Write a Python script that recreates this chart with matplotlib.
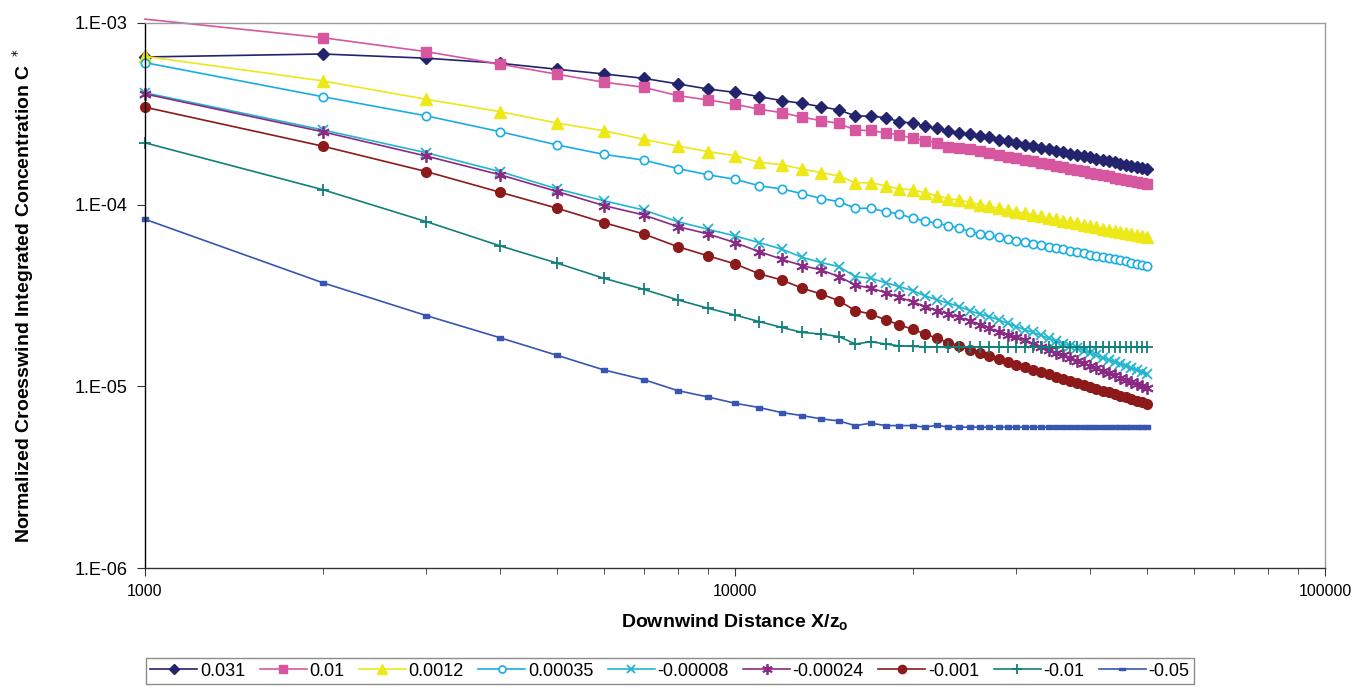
import numpy as np
import matplotlib
matplotlib.use("Agg")
import matplotlib.pyplot as plt

plt.rcParams['font.family'] = ['Liberation Sans', 'DejaVu Sans']

# downwind distance X/zo
x = [1000, 2000, 3000, 4000, 5000, 6000, 7000, 8000, 9000, 10000,
     11000, 12000, 13000, 14000, 15000, 16000, 17000, 18000, 19000, 20000,
     21000, 22000, 23000, 24000, 25000, 26000, 27000, 28000, 29000, 30000,
     31000, 32000, 33000, 34000, 35000, 36000, 37000, 38000, 39000, 40000,
     41000, 42000, 43000, 44000, 45000, 46000, 47000, 48000, 49000, 50000]

# concentration values, in units of 1e-4
c_0031 = [6.50, 6.75, 6.40, 6.00, 5.56, 5.24, 4.96, 4.62, 4.33, 4.15,
          3.93, 3.74, 3.61, 3.46, 3.32, 3.08, 3.07, 3.01, 2.86, 2.81,
          2.71, 2.63, 2.55, 2.49, 2.45, 2.39, 2.35, 2.27, 2.25, 2.19,
          2.14, 2.10, 2.06, 2.02, 1.98, 1.95, 1.91, 1.88, 1.85, 1.82,
          1.79, 1.76, 1.73, 1.71, 1.68, 1.66, 1.63, 1.61, 1.59, 1.57]
c_001 = [10.5, 8.30, 6.95, 5.93, 5.22, 4.72, 4.43, 3.98, 3.77, 3.57,
         3.35, 3.21, 3.03, 2.90, 2.80, 2.57, 2.56, 2.48, 2.42, 2.32,
         2.25, 2.19, 2.08, 2.04, 2.02, 1.98, 1.93, 1.88, 1.84, 1.81,
         1.77, 1.73, 1.70, 1.67, 1.64, 1.61, 1.58, 1.55, 1.53, 1.50,
         1.48, 1.46, 1.43, 1.41, 1.39, 1.37, 1.355, 1.34, 1.32, 1.30]
c_00012 = [6.55, 4.80, 3.80, 3.25, 2.81, 2.55, 2.29, 2.10, 1.96, 1.86,
           1.71, 1.66, 1.57, 1.50, 1.44, 1.32, 1.32, 1.27, 1.22, 1.21,
           1.16, 1.12, 1.08, 1.06, 1.03, 1.00, 0.977, 0.955, 0.934, 0.914,
           0.895, 0.878, 0.861, 0.845, 0.830, 0.815, 0.802, 0.788, 0.774, 0.762,
           0.750, 0.739, 0.728, 0.718, 0.708, 0.698, 0.689, 0.680, 0.671, 0.662]
c_000035 = [6.05, 3.93, 3.08, 2.52, 2.13, 1.89, 1.76, 1.58, 1.46, 1.38,
            1.27, 1.22, 1.15, 1.08, 1.04, 0.955, 0.955, 0.915, 0.889, 0.841,
            0.813, 0.790, 0.764, 0.742, 0.711, 0.693, 0.677, 0.662, 0.648, 0.634,
            0.622, 0.610, 0.598, 0.587, 0.577, 0.567, 0.557, 0.548, 0.539, 0.531,
            0.523, 0.515, 0.508, 0.501, 0.494, 0.487, 0.480, 0.474, 0.468, 0.462]
c_m000008 = [4.13, 2.58, 1.93, 1.52, 1.22, 1.05, 0.935, 0.806, 0.732, 0.673,
             0.618, 0.569, 0.513, 0.480, 0.456, 0.402, 0.393, 0.372, 0.354, 0.336,
             0.315, 0.299, 0.287, 0.275, 0.261, 0.250, 0.242, 0.232, 0.222, 0.213,
             0.205, 0.198, 0.191, 0.184, 0.178, 0.172, 0.167, 0.162, 0.157, 0.152,
             0.148, 0.144, 0.140, 0.136, 0.133, 0.129, 0.126, 0.123, 0.120, 0.117]
c_m000024 = [4.07, 2.52, 1.85, 1.46, 1.18, 0.988, 0.878, 0.757, 0.690, 0.618,
             0.551, 0.501, 0.462, 0.437, 0.402, 0.361, 0.347, 0.328, 0.309, 0.292,
             0.275, 0.261, 0.250, 0.240, 0.230, 0.218, 0.209, 0.200, 0.192, 0.186,
             0.179, 0.172, 0.165, 0.159, 0.153, 0.148, 0.143, 0.138, 0.134, 0.1295,
             0.1255, 0.122, 0.118, 0.115, 0.1115, 0.108, 0.1056, 0.103, 0.100, 0.0977]
c_m0001 = [3.44, 2.10, 1.52, 1.17, 0.955, 0.796, 0.690, 0.587, 0.523, 0.472,
           0.416, 0.385, 0.347, 0.322, 0.296, 0.261, 0.250, 0.232, 0.218, 0.206,
           0.194, 0.184, 0.174, 0.167, 0.1585, 0.152, 0.147, 0.141, 0.1368, 0.131,
           0.127, 0.123, 0.1197, 0.1163, 0.113, 0.1099, 0.1072, 0.1044, 0.1019, 0.0994,
           0.0971, 0.0948, 0.0927, 0.0907, 0.0888, 0.0869, 0.0851, 0.0834, 0.0817, 0.0800]
c_m001 = [2.19, 1.21, 0.806, 0.593, 0.476, 0.393, 0.342, 0.299, 0.269, 0.247,
          0.227, 0.211, 0.198, 0.194, 0.188, 0.171, 0.176, 0.171, 0.167, 0.166,
          0.165, 0.165, 0.165, 0.165, 0.165, 0.165, 0.165, 0.165, 0.165, 0.165,
          0.165, 0.165, 0.165, 0.165, 0.165, 0.165, 0.165, 0.165, 0.165, 0.165,
          0.165, 0.165, 0.165, 0.165, 0.165, 0.165, 0.165, 0.165, 0.165, 0.165]
c_m005 = [0.831, 0.372, 0.245, 0.185, 0.148, 0.123, 0.109, 0.0947, 0.0874, 0.0807,
          0.0764, 0.0717, 0.0690, 0.0662, 0.0645, 0.0608, 0.0627, 0.0608, 0.0608, 0.0608,
          0.0596, 0.0611, 0.0596, 0.0596, 0.0596, 0.0596, 0.0596, 0.0596, 0.0596, 0.0596,
          0.0596, 0.0596, 0.0596, 0.0596, 0.0596, 0.0596, 0.0596, 0.0596, 0.0596, 0.0596,
          0.0596, 0.0596, 0.0596, 0.0596, 0.0596, 0.0596, 0.0596, 0.0596, 0.0596, 0.0596]

labels = ['0.031', '0.01', '0.0012', '0.00035', '-0.00008', '-0.00024', '-0.001', '-0.01', '-0.05']
series = [c_0031, c_001, c_00012, c_000035, c_m000008, c_m000024, c_m0001, c_m001, c_m005]

dash = [(-1, -0.45), (1, -0.45), (1, 0.45), (-1, 0.45), (-1, -0.45)]
styles = [
    dict(color='#23236e', marker='D', ms=6.5),
    dict(color='#d6579f', marker='s', ms=6.5, markevery=list(range(1, 50))),  # first point sits above the plot
    dict(color='#ede818', marker='^', ms=8),
    dict(color='#1aade4', marker='o', ms=6, mfc='white', mew=1.2),
    dict(color='#22b5cf', marker='x', ms=7, mew=1.3),
    dict(color='#8a2a84', marker=(6, 2, 0), ms=9, mew=1.3),
    dict(color='#8c1a1a', marker='o', ms=7),
    dict(color='#10807a', marker='+', ms=9, mew=1.3),
    dict(color='#3656b2', marker=dash, ms=5),
]

fig = plt.figure(figsize=(13.56, 6.9), dpi=100)
ax = fig.add_axes([0.1069, 0.1768, 0.8702, 0.7899])

for lab, vals, st in zip(labels, series, styles):
    ax.plot(x, np.array(vals) * 1e-4, lw=1.2, label=lab, clip_on=False, **st)

ax.set_xscale('log')
ax.set_yscale('log')
ax.set_xlim(1000, 100000)
ax.set_ylim(1e-6, 1e-3)

ax.set_yticks([1e-6, 1e-5, 1e-4, 1e-3])
ax.set_yticklabels(['1.E-06', '1.E-05', '1.E-04', '1.E-03'])
ax.yaxis.set_minor_locator(matplotlib.ticker.NullLocator())
ax.set_xticks([1000, 10000, 100000])
ax.set_xticklabels(['1000', '10000', '100000'])
ax.xaxis.set_minor_formatter(matplotlib.ticker.NullFormatter())

ax.tick_params(axis='both', which='major', direction='out', length=5.5, color='#333333')
ax.tick_params(axis='x', which='minor', direction='out', length=4, color='#333333')
ax.tick_params(axis='y', pad=7, labelsize=13)
ax.tick_params(axis='x', pad=6, labelsize=11.5)

ax.spines['left'].set_color('black')
ax.spines['bottom'].set_color('#333333')
ax.spines['top'].set_color('#9a9a9a')
ax.spines['right'].set_color('#9a9a9a')
for s in ax.spines.values():
    s.set_linewidth(1.0)

ax.set_xlabel('Downwind Distance X/z$_\\mathregular{o}$', fontsize=14, fontweight='bold', labelpad=10)
ax.set_ylabel('Normalized Croesswind Integrated Concentration C $^*$', fontsize=14, fontweight='bold', labelpad=28)

leg = fig.legend(loc='center', bbox_to_anchor=(0.494, 0.0275), ncol=9, fontsize=13,
                 frameon=True, fancybox=False, edgecolor='#707070', handlelength=2.6,
                 columnspacing=0.8, handletextpad=0.15, borderpad=0.25, markerscale=0.85)
leg.get_frame().set_linewidth(1.0)

fig.savefig('out.png', dpi=100)
